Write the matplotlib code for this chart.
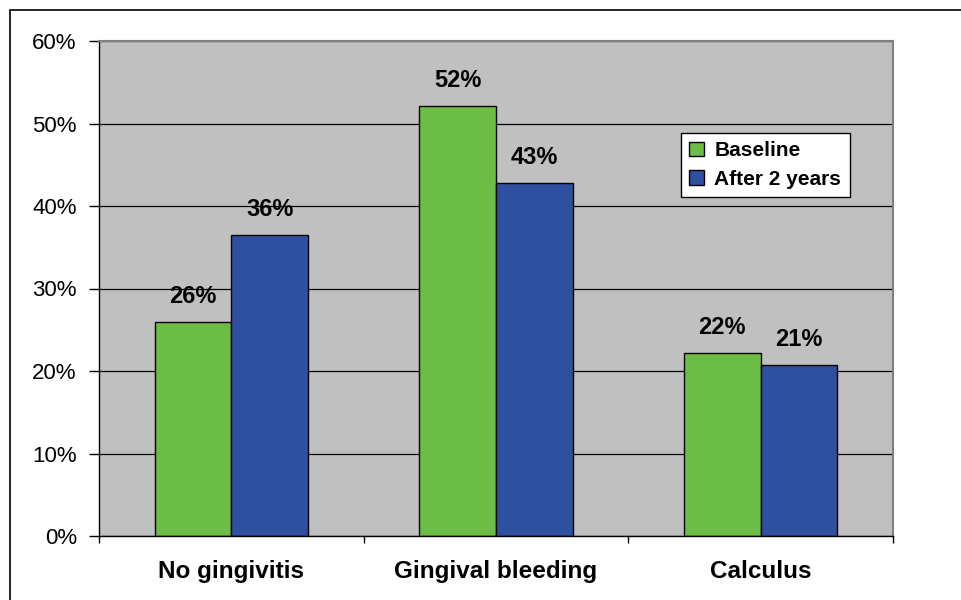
import matplotlib.pyplot as plt
import matplotlib.patches as patches
import numpy as np

categories = ["No gingivitis", "Gingival bleeding", "Calculus"]
baseline = [26.0, 52.1, 22.2]
after_2y = [36.5, 42.8, 20.7]
baseline_labels = ["26%", "52%", "22%"]
after_labels = ["36%", "43%", "21%"]
yticks = [0, 10, 20, 30, 40, 50, 60]

green = "#6CBD45"
blue = "#2F4FA0"
gray = "#C0C0C0"

plt.rcParams['font.family'] = ['Liberation Sans', 'DejaVu Sans']

fig = plt.figure(figsize=(9.61, 6.0), dpi=100)
ax = fig.add_axes([99/961, 1 - 536/600, (893 - 99)/961, (536 - 41)/600])

# outer chart frame
fig.patches.append(patches.Rectangle((10/961, -0.05), 1.2, 1 - 10/600 + 0.05,
                                     transform=fig.transFigure, fill=False,
                                     edgecolor="black", linewidth=1.2))

x = np.arange(len(categories))
w = 0.29
ax.set_facecolor(gray)
ax.set_axisbelow(True)
ax.yaxis.grid(True, color="black", linewidth=0.9)

b1 = ax.bar(x - w/2, baseline, w, color=green, edgecolor="black", linewidth=1.0, label="Baseline")
b2 = ax.bar(x + w/2, after_2y, w, color=blue, edgecolor="black", linewidth=1.0, label="After 2 years")

for rect, lab in zip(b1, baseline_labels):
    ax.annotate(lab, (rect.get_x() + rect.get_width()/2, rect.get_height()),
                xytext=(0, 10), textcoords="offset points", ha="center", va="bottom",
                fontsize=17, fontweight="bold")
for rect, lab in zip(b2, after_labels):
    ax.annotate(lab, (rect.get_x() + rect.get_width()/2, rect.get_height()),
                xytext=(0, 10), textcoords="offset points", ha="center", va="bottom",
                fontsize=17, fontweight="bold")

ax.set_xlim(-0.5, 2.5)
ax.set_ylim(0, 60)
ax.set_yticks(yticks)
ax.set_yticklabels([f"{v}%" for v in yticks], fontsize=16)
ax.tick_params(axis="y", direction="out", length=7, width=1, pad=9)

ax.set_xticks(x)
ax.set_xticklabels(categories, fontsize=17.5, fontweight="bold")
ax.set_xticks([-0.5, 0.5, 1.5, 2.5], minor=True)
ax.tick_params(axis="x", which="major", length=0, pad=17)
ax.tick_params(axis="x", which="minor", length=5, width=1, direction="out")

for s in ["left", "bottom"]:
    ax.spines[s].set_color("black")
    ax.spines[s].set_linewidth(1.0)
for s in ["top", "right"]:
    ax.spines[s].set_color("#808080")
    ax.spines[s].set_linewidth(1.5)

leg = ax.legend(loc="upper left", bbox_to_anchor=((681 - 99)/794, 1 - (133 - 41)/495),
                frameon=True, fancybox=False, edgecolor="black", facecolor="white",
                framealpha=1, prop={"size": 15, "weight": "bold"},
                handlelength=0.7, handleheight=0.7, handletextpad=0.5,
                borderpad=0.4, labelspacing=0.45, borderaxespad=0)
leg.get_frame().set_linewidth(1.0)

fig.savefig("out.png", dpi=100, facecolor="white")
